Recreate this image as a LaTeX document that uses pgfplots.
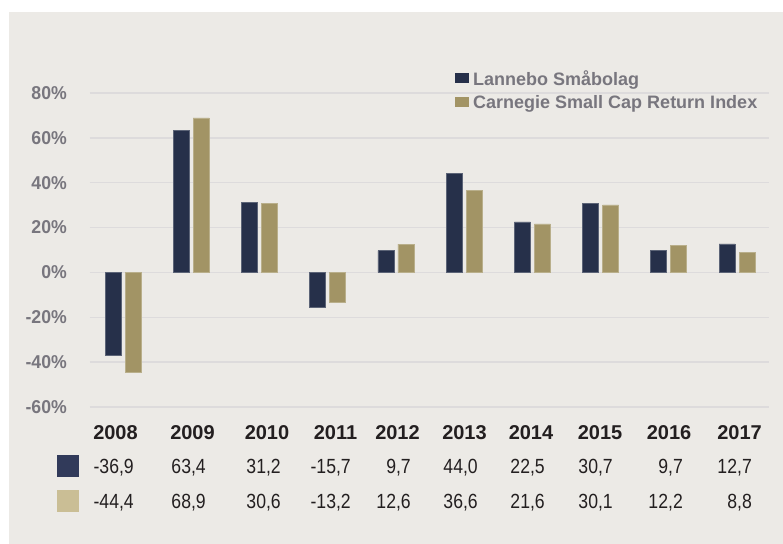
\documentclass[border=0pt]{standalone}
\usepackage{pgfplots}
\pgfplotsset{compat=1.18}
\usepackage{fontspec}
\setmainfont{Liberation Sans}
\newfontfamily\condfont{Liberation Sans}[FakeStretch=0.86]
\newfontfamily\tickfont{Liberation Sans}[FakeStretch=0.95]
\definecolor{bg}{HTML}{ECEAE6}
\definecolor{gridc}{HTML}{DDDBDC}
\definecolor{navy}{HTML}{26304A}
\definecolor{khaki}{HTML}{A29465}
\definecolor{tickgrey}{HTML}{78767E}
\definecolor{tabtext}{HTML}{231F20}
\definecolor{sqnavy}{HTML}{313A5A}
\definecolor{sqkhaki}{HTML}{CABE95}
\begin{document}
\begin{tikzpicture}
\useasboundingbox (-90bp,-137bp) rectangle (693bp,407bp);
\fill[bg] (-81bp,-137bp) rectangle (693bp,395bp);
\begin{axis}[
  at={(0,0)}, anchor=south west,
  scale only axis, width=679bp, height=314bp,
  xmin=-0.484, xmax=9.469, ymin=-60, ymax=80,
  ybar=4bp, bar width=16bp,
  axis line style={draw=none}, major tick length=0pt,
  xtick=\empty,
  ytick={-60,-40,-20,0,20,40,60,80},
  yticklabels={-60\%,-40\%,-20\%,0\%,20\%,40\%,60\%,80\%},
  yticklabel style={font=\fontsize{18.6bp}{20bp}\selectfont\tickfont\bfseries, text=tickgrey, anchor=east, inner sep=0pt, xshift=-23bp},
  ymajorgrids, major grid style={draw=gridc, line width=1.5bp},
  clip=false]
\addplot[fill=navy, draw=navy!75!white, line width=0.7bp] coordinates {
  (0,-36.9) (1,63.4) (2,31.2) (3,-15.7) (4,9.7) (5,44.0) (6,22.5) (7,30.7) (8,9.7) (9,12.7)};
\addplot[fill=khaki, draw=khaki!75!white, line width=0.7bp] coordinates {
  (0,-44.4) (1,68.9) (2,30.6) (3,-13.2) (4,12.6) (5,36.6) (6,21.6) (7,30.1) (8,12.2) (9,8.8)};
\end{axis}
% legend
\fill[navy] (365bp,323.7bp) rectangle (379bp,334.3bp);
\node[anchor=base west, inner sep=0pt, text=tickgrey, font=\fontsize{18bp}{20bp}\selectfont\bfseries] at (383bp,321bp) {Lannebo Småbolag};
\fill[khaki] (365bp,300.3bp) rectangle (379bp,310.3bp);
\node[anchor=base west, inner sep=0pt, text=tickgrey, font=\fontsize{18bp}{20bp}\selectfont\bfseries] at (383bp,298bp) {Carnegie Small Cap Return Index};
% data table
\fill[sqnavy] (-33bp,-70bp) rectangle (-11bp,-48bp);
\fill[sqkhaki] (-33bp,-105bp) rectangle (-11bp,-83bp);
\foreach \yx/\yr/\vr/\va/\vb in {25.5/2008/44/{-36,9}/{-44,4}, 102.5/2009/116/{63,4}/{68,9}, 177/2010/191/{31,2}/{30,6}, 245.5/2011/261/{-15,7}/{-13,2}, 307.5/2012/321/{9,7}/{12,6}, 374.5/2013/388/{44,0}/{36,6}, 441/2014/455/{22,5}/{21,6}, 510/2015/523/{30,7}/{30,1}, 579/2016/593/{9,7}/{12,2}, 649.5/2017/662/{12,7}/{8,8}}{
  \node[anchor=base, inner sep=0pt, text=tabtext, font=\fontsize{20bp}{22bp}\selectfont\bfseries] at (\yx bp,-32bp) {\yr};
  \node[anchor=base east, inner sep=0pt, text=tabtext, font=\fontsize{20.5bp}{22bp}\selectfont\condfont] at (\vr bp,-66bp) {\va};
  \node[anchor=base east, inner sep=0pt, text=tabtext, font=\fontsize{20.5bp}{22bp}\selectfont\condfont] at (\vr bp,-101bp) {\vb};
}
\end{tikzpicture}
\end{document}
